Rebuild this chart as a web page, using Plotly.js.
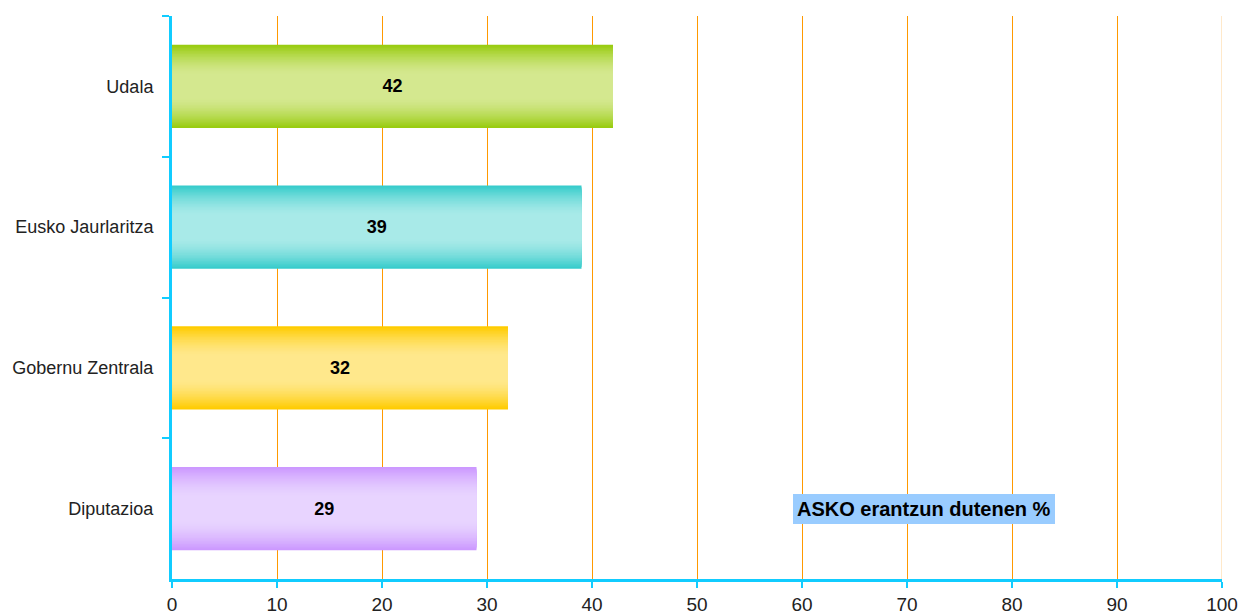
<!DOCTYPE html>
<html>
<head>
<meta charset="utf-8">
<script src="https://cdn.plot.ly/plotly-3.0.1.min.js"></script>
<style>
html,body{margin:0;padding:0;background:#fff;}
#chart{width:1244px;height:614px;}
</style>
</head>
<body>
<div id="chart"></div>
<script>
const categories = ['Udala', 'Eusko Jaurlaritza', 'Gobernu Zentrala', 'Diputazioa'];
const values = [42, 39, 32, 29];
const xTicks = [0, 10, 20, 30, 40, 50, 60, 70, 80, 90, 100];
const noteText = 'ASKO erantzun dutenen %';

const edgeColors = [[153, 204, 17], [56, 204, 204], [255, 204, 0], [204, 153, 255]];
const centerColors = [[212, 232, 143], [168, 234, 232], [255, 232, 140], [232, 212, 255]];

const barWidth = 0.59;
const steps = 20;
function mix(a, b, t) {
  return 'rgb(' + a.map((v, i) => Math.round(v + (b[i] - v) * t)).join(',') + ')';
}
const traces = [];
const sMin = 0.3;
for (let k = 0; k < steps; k++) {
  const s = 1 - k * ((1 - sMin) / (steps - 1)); // normalized distance from centre
  let f = (s - sMin) / (1 - sMin); f = Math.max(0, Math.min(1, f));
  const t = Math.pow(f, 1.5); // 0 = centre colour, 1 = edge colour
  traces.push({
    type: 'bar', orientation: 'h',
    x: values, y: categories,
    width: barWidth * s,
    marker: { color: categories.map((c, i) => mix(centerColors[i], edgeColors[i], t)), line: { width: 0 } },
    hoverinfo: 'skip', showlegend: false
  });
}
traces.push({
  type: 'bar', orientation: 'h',
  x: values, y: categories, width: barWidth,
  marker: { color: 'rgba(0,0,0,0)', line: { width: 0 } },
  text: values.map(v => '<b>' + v + '</b>'),
  textposition: 'inside', insidetextanchor: 'middle', constraintext: 'none',
  textfont: { family: 'Liberation Sans, Arial, sans-serif', size: 18, color: '#000' },
  showlegend: false
});

const layout = {
  width: 1244, height: 614,
  margin: { l: 172, r: 22, t: 16, b: 35 },
  paper_bgcolor: '#fff', plot_bgcolor: '#fff',
  barmode: 'overlay',
  showlegend: false,
  font: { family: 'Liberation Sans, Arial, sans-serif', size: 18, color: '#222' },
  xaxis: {
    range: [0, 100], tickvals: xTicks, ticktext: xTicks.map(String),
    showgrid: true, gridcolor: '#FF9900', gridwidth: 1,
    zeroline: false,
    showline: true, linecolor: '#11CCFF', linewidth: 3,
    ticks: 'outside', ticklen: 6, tickwidth: 2, tickcolor: '#11CCFF',
    ticklabelstandoff: 0,
    tickfont: { size: 19, color: '#222' }, fixedrange: true
  },
  yaxis: {
    type: 'category', categoryorder: 'array', categoryarray: categories,
    range: [categories.length - 0.5, -0.5],
    showgrid: false, zeroline: false,
    showline: true, linecolor: '#11CCFF', linewidth: 3,
    ticks: 'outside', ticklen: 7, tickwidth: 2, tickcolor: '#11CCFF',
    tickson: 'boundaries', ticklabelstandoff: 12,
    tickfont: { size: 18, color: '#222' }, fixedrange: true
  },
  shapes: [{
    type: 'line', xref: 'x', yref: 'paper', x0: xTicks[xTicks.length - 1], x1: xTicks[xTicks.length - 1], y0: 0, y1: 1,
    line: { color: '#FFE2B8', width: 1.5 }, layer: 'above'
  }],
  annotations: [{
    xref: 'x', yref: 'y', x: 71.6, y: categories[3],
    text: '<b>' + noteText + '</b>', showarrow: false,
    font: { family: 'Liberation Sans, Arial, sans-serif', size: 20, color: '#000' },
    bgcolor: '#99CCFF', borderpad: 4, borderwidth: 0
  }]
};

Plotly.newPlot('chart', traces, layout, { displayModeBar: false, staticPlot: true });
</script>
</body>
</html>
